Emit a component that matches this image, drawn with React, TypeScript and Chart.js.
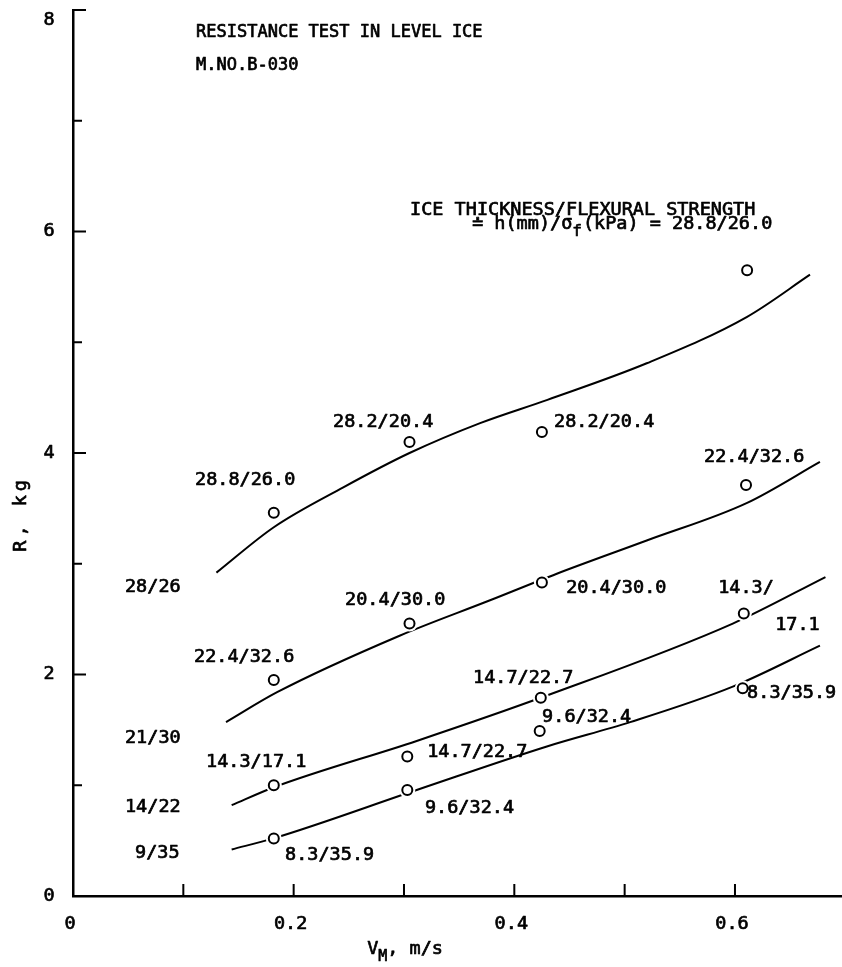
import React, { useEffect, useRef } from "react";
import { Chart, registerables } from "chart.js";

Chart.register(...registerables);

const FONT = '"DejaVu Sans Mono", "Liberation Mono", monospace';

// Axis ranges and ticks
const X_MIN = 0;
const X_MAX = 0.697;
const Y_MIN = 0;
const Y_MAX = 8;
const xTickMarks = [0.1, 0.2, 0.3, 0.4, 0.5, 0.6];
const xTickLabelValues = [0, 0.2, 0.4, 0.6];
const xTickLabels = ["0", "0.2", "0.4", "0.6"];
const yMajorTicks = [0, 2, 4, 6, 8];
const yMinorTicks = [1, 3, 5, 7];
const yTickLabels = ["0", "2", "4", "6", "8"];

// Measured points [V_M (m/s), R (kg)]
const points2826: [number, number][] = [[0.182, 3.46], [0.305, 4.10], [0.425, 4.19], [0.611, 5.65]];
const points2130: [number, number][] = [[0.182, 1.95], [0.305, 2.46], [0.425, 2.83], [0.610, 3.71]];
const points1422: [number, number][] = [[0.182, 1.00], [0.303, 1.26], [0.424, 1.79], [0.608, 2.55]];
const points935: [number, number][] = [[0.182, 0.52], [0.303, 0.957], [0.423, 1.49], [0.607, 1.875]];

// Faired curves
const curve2826: [number, number][] = [[0.130, 2.92], [0.182, 3.33], [0.245, 3.69], [0.305, 4.0], [0.369, 4.27], [0.43, 4.48], [0.52, 4.81], [0.611, 5.23], [0.668, 5.61]];
const curve2130: [number, number][] = [[0.1387, 1.57], [0.185, 1.84], [0.296, 2.35], [0.378, 2.67], [0.4385, 2.91], [0.52, 3.21], [0.611, 3.55], [0.677, 3.92]];
const curve1422: [number, number][] = [[0.1438, 0.82], [0.1816, 0.98], [0.3115, 1.40], [0.4295, 1.81], [0.598, 2.46], [0.682, 2.88]];
const curve935: [number, number][] = [[0.1438, 0.42], [0.1816, 0.52], [0.3115, 0.957], [0.4295, 1.35], [0.505, 1.57], [0.598, 1.89], [0.677, 2.26]];

// Point labels (text, anchor in data units: left edge, vertical middle)
const pointLabelTexts = [
  "28.8/26.0", "28.2/20.4", "28.2/20.4", "22.4/32.6",
  "22.4/32.6", "20.4/30.0", "20.4/30.0", "14.3/", "17.1",
  "14.7/22.7", "9.6/32.4", "8.3/35.9",
  "14.3/17.1", "14.7/22.7", "9.6/32.4", "8.3/35.9",
];
const pointLabelAnchors: [number, number][] = [
  [0.1106, 3.756], [0.2357, 4.28], [0.436, 4.28], [0.572, 3.964],
  [0.1097, 2.158], [0.2466, 2.673], [0.447, 2.781], [0.5848, 2.781], [0.6364, 2.447],
  [0.3626, 1.968], [0.4252, 1.616], [0.611, 1.833],
  [0.1206, 1.21], [0.321, 1.30], [0.319, 0.795], [0.1922, 0.37],
];

// Curve labels at left (nominal thickness/strength)
const curveLabelTexts = ["28/26", "21/30", "14/22", "9/35"];
const curveLabelAnchors: [number, number][] = [[0.0471, 2.79], [0.0471, 1.427], [0.0471, 0.804], [0.0562, 0.388]];

const titleLines = ["RESISTANCE TEST IN LEVEL ICE", "M.NO.B-030"];
const noteLine1 = "ICE THICKNESS/FLEXURAL STRENGTH";
const noteLine2a = "≐ h(mm)/σ";
const noteLine2sub = "f";
const noteLine2b = "(kPa) = 28.8/26.0";
const xTitleMain = "V";
const xTitleSub = "M";
const xTitleRest = ", m/s";
const yTitle = "R, kg";

const toXY = (arr: [number, number][]) => arr.map(([x, y]) => ({ x, y }));

function text(ctx: CanvasRenderingContext2D, s: string, x: number, y: number) {
  ctx.fillText(s, x, y);
  ctx.strokeText(s, x, y);
}

const decorations = {
  id: "decorations",
  afterDatasetsDraw(chart: any) {
    const { ctx, chartArea } = chart;
    const xs = chart.scales.x;
    const ys = chart.scales.y;
    ctx.save();
    ctx.strokeStyle = "#000";
    ctx.lineWidth = 2;
    ctx.beginPath();
    yMajorTicks.forEach((v) => {
      const y = ys.getPixelForValue(v);
      ctx.moveTo(chartArea.left, y);
      ctx.lineTo(chartArea.left + 13, y);
    });
    yMinorTicks.forEach((v) => {
      const y = ys.getPixelForValue(v);
      ctx.moveTo(chartArea.left, y);
      ctx.lineTo(chartArea.left + 9, y);
    });
    xTickMarks.forEach((v) => {
      const x = xs.getPixelForValue(v);
      ctx.moveTo(x, chartArea.bottom);
      ctx.lineTo(x, chartArea.bottom - 12);
    });
    ctx.stroke();

    ctx.fillStyle = "#000";
    ctx.lineWidth = 0.7;
    ctx.lineJoin = "round";
    ctx.textBaseline = "middle";
    ctx.font = `18.5px ${FONT}`;
    ctx.textAlign = "center";
    yMajorTicks.forEach((v, i) => {
      let y = ys.getPixelForValue(v);
      if (i === yMajorTicks.length - 1) y += 10;
      text(ctx, yTickLabels[i], chartArea.left - 24, y);
    });
    xTickLabelValues.forEach((v, i) => {
      text(ctx, xTickLabels[i], xs.getPixelForValue(v) - 3, chartArea.bottom + 28);
    });

    ctx.textAlign = "left";
    pointLabelTexts.forEach((t, i) => {
      const [vx, vy] = pointLabelAnchors[i];
      text(ctx, t, xs.getPixelForValue(vx), ys.getPixelForValue(vy));
    });
    curveLabelTexts.forEach((t, i) => {
      const [vx, vy] = curveLabelAnchors[i];
      text(ctx, t, xs.getPixelForValue(vx), ys.getPixelForValue(vy));
    });

    // Note at upper right
    const nx = xs.getPixelForValue(0.3055);
    const ny = ys.getPixelForValue(6.19);
    text(ctx, noteLine1, nx, ny);
    let px = xs.getPixelForValue(0.3617);
    const ny2 = ny + 14;
    text(ctx, noteLine2a, px, ny2);
    px += ctx.measureText(noteLine2a).width;
    ctx.font = `16px ${FONT}`;
    text(ctx, noteLine2sub, px, ny2 + 7);
    px += ctx.measureText(noteLine2sub).width + 1;
    ctx.font = `18.5px ${FONT}`;
    text(ctx, noteLine2b, px, ny2);

    // Title block
    ctx.font = `17px ${FONT}`;
    const tx = xs.getPixelForValue(0.1115);
    text(ctx, titleLines[0], tx, ys.getPixelForValue(7.80));
    text(ctx, titleLines[1], tx, ys.getPixelForValue(7.50));

    // X axis title
    ctx.font = `18.5px ${FONT}`;
    let ax = xs.getPixelForValue(0.2666);
    const ay = chartArea.bottom + 53;
    text(ctx, xTitleMain, ax, ay);
    ax += ctx.measureText(xTitleMain).width;
    ctx.font = `15px ${FONT}`;
    text(ctx, xTitleSub, ax, ay + 8);
    ax += ctx.measureText(xTitleSub).width;
    ctx.font = `18.5px ${FONT}`;
    text(ctx, xTitleRest, ax, ay);

    // Y axis title
    ctx.save();
    ctx.translate(chartArea.left - 52, ys.getPixelForValue(3.45));
    ctx.rotate(-Math.PI / 2);
    ctx.textAlign = "center";
    (ctx as any).letterSpacing = "4px";
    text(ctx, yTitle, 0, 0);
    ctx.restore();

    ctx.restore();
  },
};

export default function App() {
  const canvasRef = useRef<HTMLCanvasElement | null>(null);

  useEffect(() => {
    if (!canvasRef.current) return;
    const curves = [curve2826, curve2130, curve1422, curve935];
    const pointSets = [points2826, points2130, points1422, points935];
    const allPoints = pointSets.flatMap((p) => toXY(p));
    const chart = new Chart(canvasRef.current, {
      type: "scatter",
      data: {
        datasets: [
          ...curves.map((c) => ({
            data: toXY(c),
            showLine: true,
            borderColor: "#000",
            borderWidth: 2,
            pointRadius: 0,
            fill: false,
            cubicInterpolationMode: "monotone" as const,
            order: 3,
          })),
          {
            data: allPoints,
            pointRadius: 8,
            pointBackgroundColor: "#fff",
            pointBorderColor: "#fff",
            pointBorderWidth: 0,
            order: 2,
          },
          ...pointSets.map((p) => ({
            data: toXY(p),
            pointRadius: 5,
            pointBackgroundColor: "#fff",
            pointBorderColor: "#000",
            pointBorderWidth: 2,
            order: 1,
          })),
        ],
      },
      options: {
        responsive: false,
        animation: false,
        events: [],
        layout: { autoPadding: false, padding: { left: 73, right: 0, top: 10, bottom: 71 } },
        plugins: { legend: { display: false }, tooltip: { enabled: false } },
        scales: {
          x: {
            type: "linear",
            min: X_MIN,
            max: X_MAX,
            grid: { display: false, drawTicks: false },
            ticks: { display: false },
            border: { display: true, color: "#000", width: 2.5 },
          },
          y: {
            type: "linear",
            min: Y_MIN,
            max: Y_MAX,
            grid: { display: false, drawTicks: false },
            ticks: { display: false },
            border: { display: true, color: "#000", width: 2.5 },
          },
        },
      },
      plugins: [decorations],
    });
    return () => chart.destroy();
  }, []);

  return (
    <div style={{ position: "absolute", left: 0, top: 0, width: 842, height: 967, background: "#fff" }}>
      <canvas ref={canvasRef} width={842} height={967} style={{ display: "block" }} />
    </div>
  );
}
